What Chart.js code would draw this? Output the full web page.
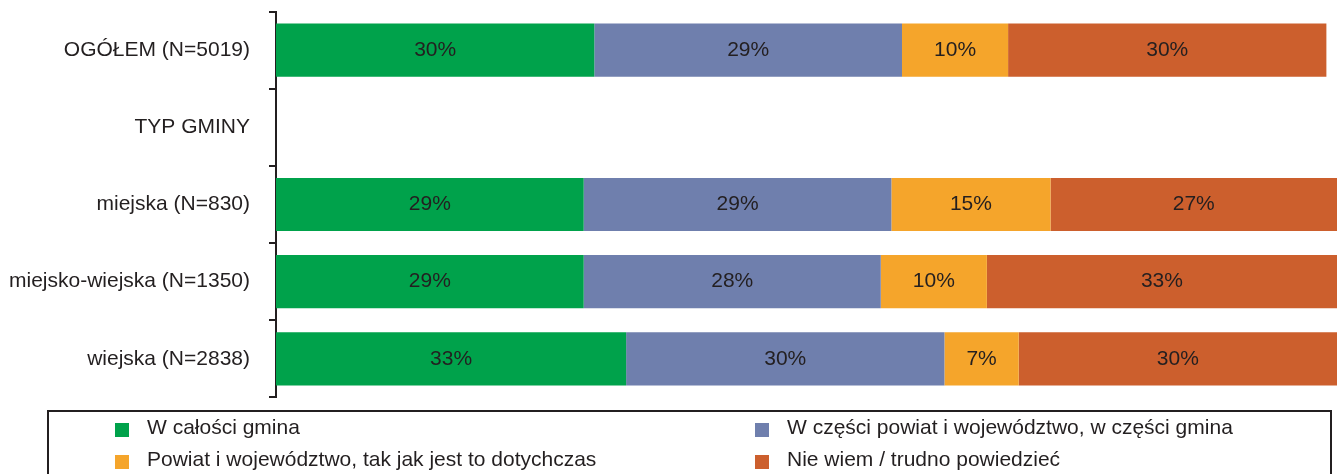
<!DOCTYPE html>
<html>
<head>
<meta charset="utf-8">
<script src="https://cdn.jsdelivr.net/npm/chart.js@4/dist/chart.umd.min.js"></script>
<style>
  body { margin: 0; background: #fff; font-family: "Liberation Sans", Arial, sans-serif; }
  #wrap { position: relative; width: 1337px; height: 474px; overflow: hidden; }
  #chart-box { position: absolute; left: 0; top: -20px; width: 1337px; height: 449px; }
  #legend {
    position: absolute; left: 47px; top: 410px; width: 1285px; height: 80px;
    border: 2px solid #231f20; box-sizing: border-box;
  }
  .item { position: absolute; font-size: 21px; color: #231f20; white-space: nowrap; }
  .item span.sw { position: absolute; left: 0; top: 8px; width: 14px; height: 14px; }
  .item span.tx { position: absolute; left: 32px; top: 0; }
</style>
</head>
<body>
<div id="wrap">
  <div id="chart-box"><canvas id="bar-chart"></canvas></div>
  <div id="legend"></div>
</div>
<script>
// categories (rows) and the four answer series, in percent
let categories = ['OGÓŁEM (N=5019)', 'TYP GMINY', 'miejska (N=830)', 'miejsko-wiejska (N=1350)', 'wiejska (N=2838)']
let seriesNames = [
    'W całości gmina',
    'W części powiat i województwo, w części gmina',
    'Powiat i województwo, tak jak jest to dotychczas',
    'Nie wiem / trudno powiedzieć'
]
let wholeGmina = [30, null, 29, 29, 33]
let partlyBoth = [29, null, 29, 28, 30]
let powiatAsNow = [10, null, 15, 10, 7]
let dontKnow = [30, null, 27, 33, 30]
let seriesColors = ['#00a24b', '#6f7fad', '#f5a52b', '#cc5f2d']

let seriesValues = [wholeGmina, partlyBoth, powiatAsNow, dontKnow]

let fontFamily = '"Liberation Sans", Arial, sans-serif'

// write the percentage in the middle of every bar segment
let segmentLabels = {
    id: 'segmentLabels',
    afterDatasetsDraw(chart) {
        let ctx = chart.ctx
        ctx.save()
        ctx.font = '21px ' + fontFamily
        ctx.fillStyle = '#231f20'
        ctx.textAlign = 'center'
        ctx.textBaseline = 'middle'
        chart.data.datasets.forEach(function(ds, i) {
            chart.getDatasetMeta(i).data.forEach(function(bar, j) {
                let v = ds.data[j]
                if (v == null) return
                let p = bar.getProps(['x', 'y', 'base'], true)
                ctx.fillText(v + '%', (p.x + p.base) / 2, p.y)
            })
        })
        ctx.restore()
    }
}

let ctx = document.getElementById('bar-chart').getContext('2d')
let surveyChart = new Chart(ctx, {
    type: 'bar',
    data: {
        labels: categories,
        datasets: seriesValues.map(function(vals, i) {
            return {
                label: seriesNames[i],
                data: vals,
                backgroundColor: seriesColors[i],
                barPercentage: 0.69,
                categoryPercentage: 1
            }
        })
    },
    options: {
        indexAxis: 'y',
        responsive: true,
        maintainAspectRatio: false,
        animation: false,
        layout: { padding: 0 },
        plugins: { legend: { display: false }, tooltip: { enabled: false } },
        scales: {
            x: { stacked: true, min: 0, max: 100, display: false },
            y: {
                stacked: true,
                afterFit(scale) { scale.width = 276 },
                border: { display: true, color: '#231f20', width: 2 },
                grid: {
                    offset: true,
                    drawOnChartArea: false,
                    drawTicks: true,
                    tickLength: 7,
                    color: '#231f20',
                    lineWidth: 2
                },
                ticks: {
                    color: '#231f20',
                    padding: 19,
                    font: { family: fontFamily, size: 21 }
                }
            }
        }
    },
    plugins: [segmentLabels]
})

// legend in two columns inside a framed box
let legendPos = [[66, 3], [706, 3], [66, 35], [706, 35]]
let legendBox = document.getElementById('legend')
seriesNames.forEach(function(name, i) {
    let el = document.createElement('div')
    el.className = 'item'
    el.style.left = legendPos[i][0] + 'px'
    el.style.top = legendPos[i][1] + 'px'
    el.innerHTML = '<span class="sw" style="background:' + seriesColors[i] + '"></span>' +
        '<span class="tx">' + name + '</span>'
    legendBox.appendChild(el)
})
</script>
</body>
</html>
